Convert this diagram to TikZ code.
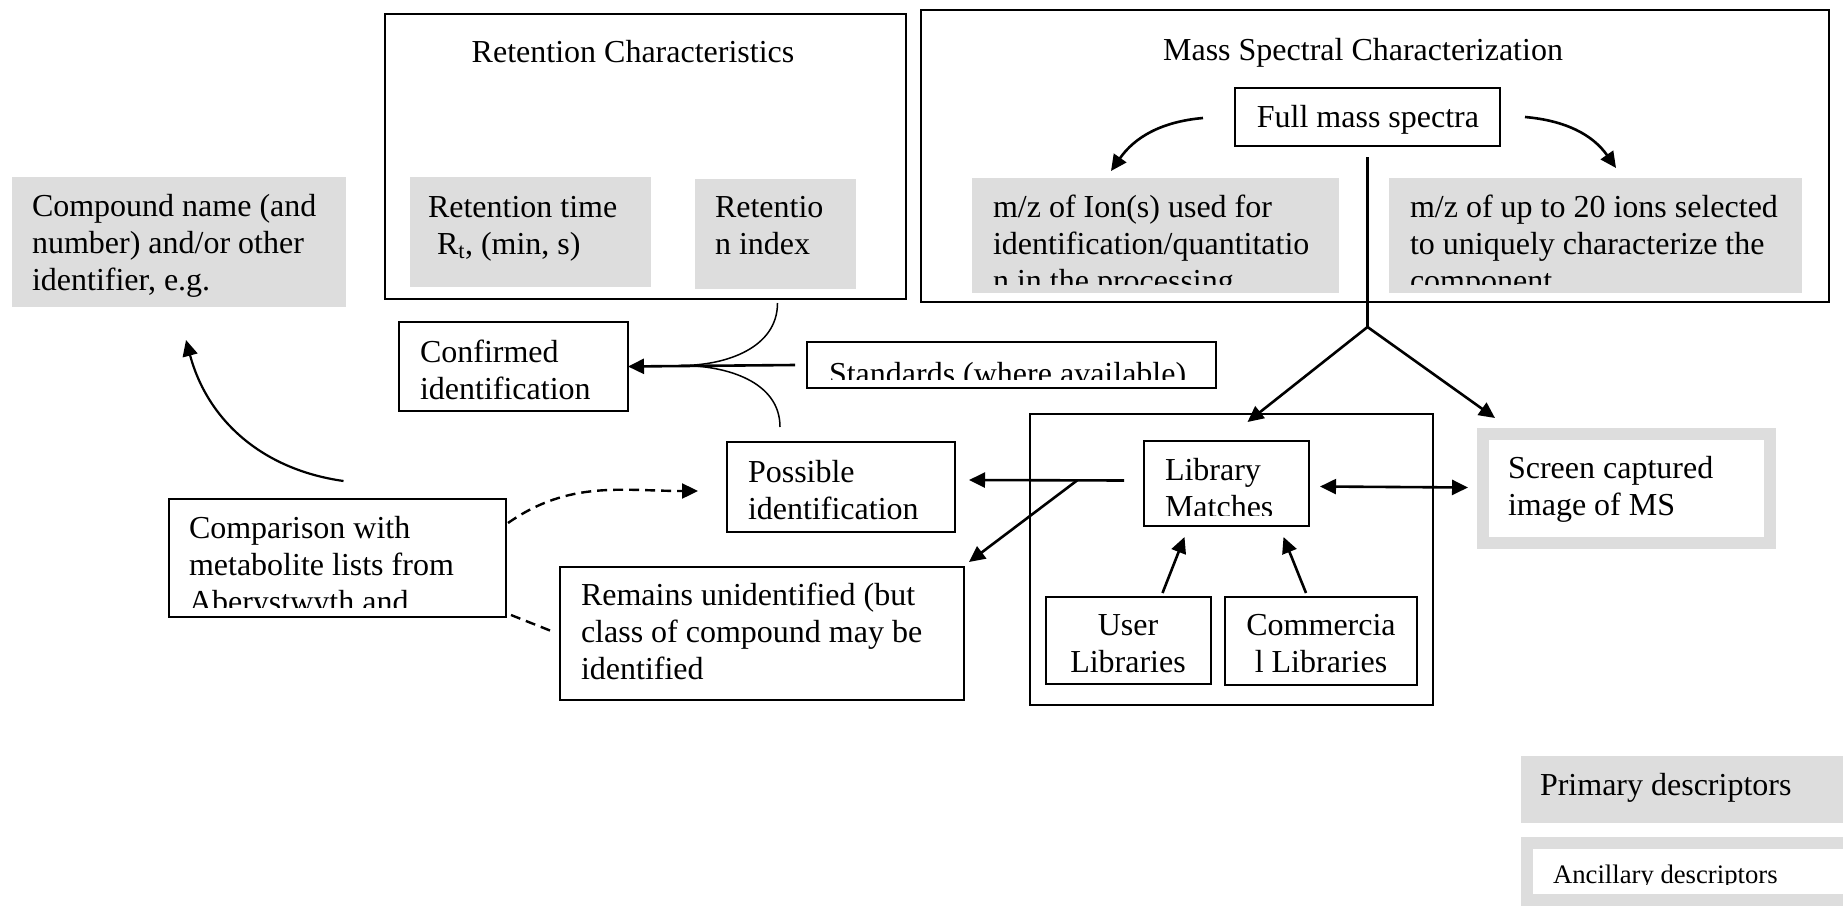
\documentclass[tikz,border=0pt]{standalone}
\usepackage{fontspec}
\setmainfont{Liberation Serif}
\usetikzlibrary{arrows.meta, calc}
\definecolor{descgrey}{RGB}{221,221,221}
\tikzset{
  box/.style={
    rectangle, draw, line width=2pt, anchor=north west,
    inner sep=0pt, outer sep=0pt
  },
  greybox/.style={
    rectangle, fill=descgrey, anchor=north west,
    inner sep=0pt, outer sep=0pt
  },
  framebox/.style={
    rectangle, draw=descgrey, line width=12pt, fill=white,
    anchor=north west, inner sep=0pt, outer sep=0pt
  },
  txt/.style={anchor=base west, inner sep=0pt},
  heading/.style={anchor=base, inner sep=0pt},
  % text set from the top left corner, cut off near the bottom edge
  txtin/.style n args={4}{
    path picture={
      \clip (path picture bounding box.north west)
        rectangle ([yshift=#3pt]path picture bounding box.south east);
      \node[txt] (#1) at ([shift={(#2)}]path picture bounding box.north west)
        {\parbox[t]{600pt}{\raggedright #4}};
    }
  },
  % centred lines, first baseline given from the top left corner
  txtmid/.style n args={3}{
    path picture={
      \node[heading] (#1) at ([shift={(#2)}]path picture bounding box.north west)
        {\parbox[t]{300pt}{\centering #3}};
    }
  },
  arrow/.style={line width=2.6pt, -{Triangle[length=16pt,width=15pt]}},
  dblarrow/.style={line width=2.6pt, {Triangle[length=16pt,width=15pt]}-{Triangle[length=16pt,width=15pt]}},
  link/.style={line width=2.2pt},
  thinlink/.style={line width=1.5pt},
  dashlink/.style={line width=2.4pt, dash pattern=on 10pt off 6pt},
}
\begin{document}
\begin{tikzpicture}[x=1pt, y=-1pt, font=\fontsize{32}{37}\selectfont]
  \useasboundingbox (0,0) rectangle (1843,907);

  % retention block
  \node[box, minimum width=521, minimum height=285] (retbox) at (385,14) {};
  \node[heading] (rettitle) at (633,63) {Retention Characteristics};
  \node[greybox, minimum width=241, minimum height=110,
        txtin={rttxt}{18,40}{8}{Retention time\\\hspace*{9pt}R\textsubscript{t}, (min, s)}] (rettime) at (410,177) {};
  \node[greybox, minimum width=161, minimum height=110,
        txtin={ritxt}{20,38}{8}{Retentio\\n index}] (retidx) at (695,179) {};

  % mass spectral block
  \node[box, minimum width=908, minimum height=292] (msbox) at (921,10) {};
  \node[heading] (mstitle) at (1363,60) {Mass Spectral Characterization};
  \node[box, minimum width=265, minimum height=58,
        txtmid={fmstxt}{133,39}{Full mass spectra}] (fms) at (1235,88) {};
  \node[greybox, minimum width=367, minimum height=115,
        txtin={iontxt}{21,39}{9}{m/z of Ion(s) used for\\identification/quantitatio\\n in the processing}] (mzion) at (972,178) {};
  \node[greybox, minimum width=413, minimum height=115,
        txtin={twentytxt}{21,39}{9}{m/z of up to 20 ions selected\\to uniquely characterize the\\component}] (mztwenty) at (1389,178) {};

  % identification
  \node[greybox, minimum width=334, minimum height=130,
        txtin={comptxt}{20,39}{8}{Compound name (and\\number) and/or other\\identifier, e.g.}] (compound) at (12,177) {};
  \node[box, minimum width=229, minimum height=89,
        txtin={conftxt}{21,40}{8}{Confirmed\\identification}] (confirmed) at (399,322) {};
  \node[box, minimum width=409, minimum height=46,
        txtin={stdtxt}{22,42}{9}{Standards (where available)}] (standards) at (807,342) {};
  \node[box, minimum width=228, minimum height=90,
        txtin={posstxt}{21,40}{8}{Possible\\identification}] (possible) at (727,442) {};
  \node[box, minimum width=337, minimum height=118,
        txtin={cmptxt}{20,39}{10}{Comparison with\\metabolite lists from\\Aberystwyth and}] (comparison) at (169,499) {};
  \node[box, minimum width=404, minimum height=133,
        txtin={remtxt}{21,38}{8}{Remains unidentified (but\\class of compound may be\\identified}] (remains) at (560,567) {};

  % libraries
  \node[box, minimum width=403, minimum height=291] (libbox) at (1030,414) {};
  \node[box, minimum width=165, minimum height=85,
        txtin={lmtxt}{21,39}{11}{Library\\Matches}] (libmatch) at (1144,441) {};
  \node[box, minimum width=165, minimum height=87,
        txtmid={usertxt}{82,38}{User\\Libraries}] (userlib) at (1046,597) {};
  \node[box, minimum width=192, minimum height=88,
        txtmid={commtxt}{96,38}{Commercia\\l Libraries}] (commlib) at (1225,597) {};
  \node[framebox, minimum width=287, minimum height=109,
        txtin={scrtxt}{25,44}{8}{Screen captured\\image of MS}] (screen) at (1483,434) {};

  % key
  \node[greybox, minimum width=330, minimum height=67,
        txtin={primtxt}{19,39}{8}{Primary descriptors}] (primary) at (1521,756) {};
  \node[framebox, minimum width=330, minimum height=57,
        txtin={anctxt}{26,40}{16}{\fontsize{26.7}{31}\selectfont Ancillary descriptors}] (ancillary) at (1527,843) {};

  % connectors
  \draw[arrow] ($(fms.west)+(-32,1)$) to[out=185,in=55] ($(mzion.north west)+(139,-7)$);
  \draw[arrow] ($(fms.east)+(25,0)$) to[out=-5,in=125] ($(mztwenty.north west)+(227,-10)$);
  \coordinate (split) at ($(fms.south)+(0,181)$);
  \draw[link] ([yshift=-11pt]fms.south) -- (split);
  \draw[arrow] (split) -- ($(libbox.north)+(16,8)$);
  \draw[arrow] (split) -- ($(screen.north west)+(12,-16)$);

  \coordinate (merge) at ($(confirmed.east)+(53,-1)$);
  \draw[arrow] ($(standards.west)+(-12,0)$) -- (confirmed.east);
  \draw[thinlink] ($(retbox.south)+(132,4)$) to[out=-90,in=0] (merge);
  \draw[thinlink] ($(possible.north)+(-61,-15)$) to[out=90,in=0] (merge);

  \coordinate (fork) at ($(libmatch.west)+(-67,-3)$);
  \draw[arrow] ($(libmatch.west)+(-20,-3)$) -- ($(possible.east)+(14,-7)$);
  \draw[arrow] (fork) -- ($(remains.north east)+(5,-5)$);
  \draw[dblarrow] ($(libmatch.east)+(11,3)$) -- ($(screen.west)+(-15,-1)$);
  \draw[arrow] ($(userlib.north)+(34,-4)$) -- ($(libmatch.south)+(-42,11)$);
  \draw[arrow] ($(commlib.north)+(-15,-4)$) -- ($(libmatch.south)+(57,11)$);

  \draw[arrow, line width=2.2pt] ($(comparison.north)+(6,-18)$) to[out=172,in=-75] ($(compound.south)+(7,33)$);
  \draw[dashlink, -{Triangle[length=16pt,width=15pt]}] ($(comparison.north east)+(2,24)$) to[out=35,in=180] ($(possible.west)+(-29,4)$);
  \draw[dashlink] ($(comparison.south east)+(5,-2)$) -- ($(remains.west)+(-5,-1)$);
\end{tikzpicture}
\end{document}
